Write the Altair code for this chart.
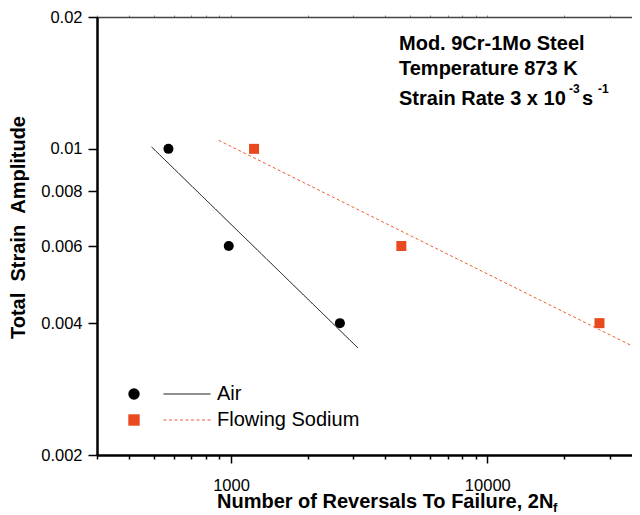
import altair as alt
import pandas as pd

# ---- data ----
air_cycles = [570, 980, 2660]
air_strain = [0.010, 0.006, 0.004]
na_cycles = [1230, 4620, 27400]
na_strain = [0.010, 0.006, 0.004]

air_fit_cycles = [490, 3130]
air_fit_strain = [0.0101, 0.00351]
na_fit_cycles = [895, 36700]
na_fit_strain = [0.01046, 0.00355]

series_names = ["Air", "Flowing Sodium"]
x_ticks = [300, 400, 500, 600, 700, 800, 900, 1000, 2000, 3000, 4000, 5000,
           6000, 7000, 8000, 9000, 10000, 20000, 30000]
y_ticks = [0.002, 0.004, 0.006, 0.008, 0.01, 0.02]

FONT = "Liberation Sans"
ORANGE = "#E8491E"
SALMON = "#EF5B34"

pts = pd.DataFrame({
    "cycles": air_cycles + na_cycles,
    "strain": air_strain + na_strain,
    "series": [series_names[0]] * len(air_cycles) + [series_names[1]] * len(na_cycles),
})
fits = pd.DataFrame({
    "cycles": air_fit_cycles + na_fit_cycles,
    "strain": air_fit_strain + na_fit_strain,
    "series": [series_names[0]] * len(air_fit_cycles) + [series_names[1]] * len(na_fit_cycles),
})

xscale = alt.Scale(type="log", domain=[300, 36700], nice=False)
yscale = alt.Scale(type="log", domain=[0.002, 0.02], nice=False)

bottom_axis = alt.Axis(
    orient="bottom", values=x_ticks, title=None, grid=False,
    labelExpr="(datum.value == 1000 || datum.value == 10000) ? datum.value + '' : ''",
    labelFont=FONT, labelFontSize=16.5, labelColor="black", labelPadding=14,
    domainColor="black", domainWidth=2.5,
    tickColor="black", tickWidth=1.5,
    tickSize={"condition": {"test": "datum.value == 1000 || datum.value == 10000", "value": 8}, "value": 4},
)
top_axis = alt.Axis(
    orient="top", values=x_ticks, title=None, grid=False, labels=False,
    domainColor="#444444", domainWidth=1.5, tickColor="#888888", tickWidth=1, tickSize=2,
)
y_axis = alt.Axis(
    values=y_ticks, title=None, grid=False,
    labelExpr="datum.value + ''",
    labelFont=FONT, labelFontSize=16.5, labelColor="black", labelPadding=6,
    domainColor="black", domainWidth=2.5,
    tickColor="black", tickWidth=1.5, tickSize=9,
)

pt_legend = alt.Legend(
    orient="none", legendX=31, legendY=367, title=None, labelExpr="''",
    symbolSize=130, symbolStrokeWidth=0, clipHeight=20, rowPadding=6, padding=0,
)
ln_legend = alt.Legend(
    orient="none", legendX=66, legendY=367, title=None,
    symbolType="stroke", symbolSize=2209, symbolStrokeWidth=1,
    labelFont=FONT, labelFontSize=20, labelColor="black", labelOffset=6,
    clipHeight=20, rowPadding=6, padding=0,
)

points = alt.Chart(pts).mark_point(filled=True, size=100, opacity=1, strokeWidth=0).encode(
    x=alt.X("cycles:Q", scale=xscale, axis=bottom_axis),
    y=alt.Y("strain:Q", scale=yscale, axis=y_axis),
    fill=alt.Fill("series:N", scale=alt.Scale(range=["black", ORANGE]), legend=pt_legend),
    shape=alt.Shape("series:N", scale=alt.Scale(range=["circle", "square"]), legend=pt_legend),
)

lines = alt.Chart(fits).mark_line(strokeWidth=1).encode(
    x=alt.X("cycles:Q", scale=xscale, axis=top_axis),
    y=alt.Y("strain:Q", scale=yscale, axis=y_axis),
    stroke=alt.Stroke("series:N", scale=alt.Scale(range=["black", SALMON]), legend=ln_legend),
    strokeDash=alt.StrokeDash("series:N", scale=alt.Scale(range=[[1, 0], [3, 2.5]]), legend=ln_legend),
    detail="series:N",
)

one = pd.DataFrame({"k": [0]})


def label(text, x, y, size, weight="bold", angle=0, align="left", baseline="alphabetic"):
    return alt.Chart(one).mark_text(
        text=text, font=FONT, fontSize=size, fontWeight=weight, color="black",
        align=align, baseline=baseline, angle=angle,
    ).encode(x=alt.value(x), y=alt.value(y))


annotations = [
    label("Mod. 9Cr-1Mo Steel", 302, 33, 20),
    label("Temperature 873 K", 302, 58, 20),
    label("Strain Rate 3 x 10", 302, 88, 20),
    label("-3", 472, 76, 12),
    label("s", 485, 88, 20),
    label("-1", 501, 76, 12),
    label("Number of Reversals To Failure, 2N", 120, 491, 20),
    label("f", 456, 495, 13),
    label("Total \u00a0Strain \u00a0Amplitude", -72, 210.5, 20, angle=270, align="center"),
]

chart = alt.layer(lines, points, *annotations).resolve_axis(
    x="independent"
).properties(
    width=535, height=438,
    autosize=alt.AutoSizeParams(type="none"),
    padding={"left": 89, "top": 9, "right": 0, "bottom": 60},
).configure(font=FONT).configure_view(strokeWidth=0)

chart.save("out.html", embed_options={"renderer": "svg", "actions": False})
